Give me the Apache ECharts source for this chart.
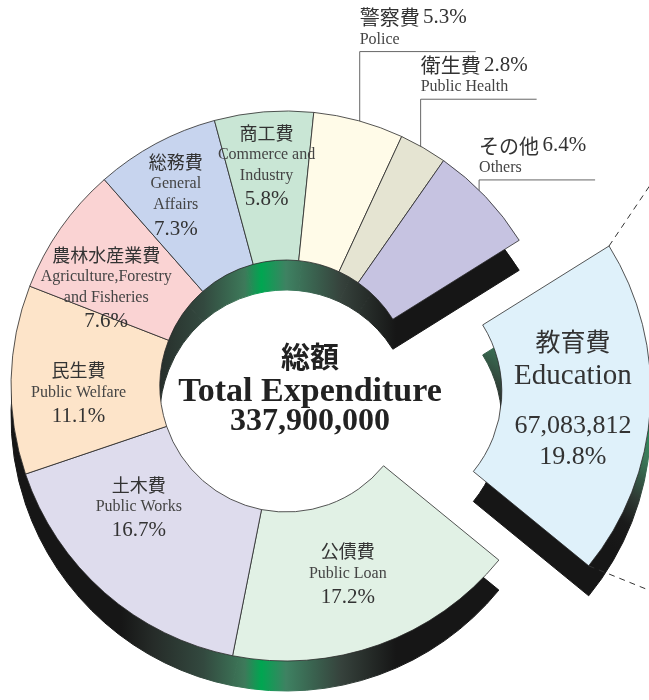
<!DOCTYPE html>
<html>
<head>
<meta charset="utf-8">
<script src="https://cdn.jsdelivr.net/npm/echarts@6/dist/echarts.min.js"></script>
<style>
  html, body { margin: 0; background: #fff; }
  #chart { width: 649px; height: 700px; }
</style>
</head>
<body>
<div id="chart"></div>
<script>
// slices run clockwise, starting with the exploded one
const namesJa = ["教育費", "公債費", "土木費", "民生費", "農林水産業費", "総務費", "商工費", "警察費", "衛生費", "その他"];
const namesEn = ["Education", "Public Loan", "Public Works", "Public Welfare", "Agriculture,Forestry\nand Fisheries",
  "General\nAffairs", "Commerce and\nIndustry", "Police", "Public Health", "Others"];
const shares = [19.8, 17.2, 16.7, 11.1, 7.6, 7.3, 5.8, 5.3, 2.8, 6.4];
const educationAmount = 67083812;
const totalExpenditure = 337900000;
const totalLabelJa = "総額";
const totalLabelEn = "Total Expenditure";

const sliceColors = ["#dff1fa", "#e1f1e5", "#dedced", "#fde4c9", "#fad3d3",
  "#c7d4ee", "#c9e6d5", "#fffbe8", "#e5e4d2", "#c6c3e1"];

// geometry of the ring (px)
const CX = 286, CY = 386, R0 = 126, R1 = 275, DEPTH = 30, START = 32, EXPLODE = 90;
// callout slices: how far the leader rises above its anchor
const calloutRise = { 7: 83, 8: 62, 9: 29 };
const CALLOUT_LEN = 116;
// nudges for the labels drawn inside the ring
const labelNudge = [[-6, -6], [-7, -2], [-13, -30], [-4, 13], [-13, 20], [-14, -10], [-3, -16]];

const rad = (d) => (d * Math.PI) / 180;
const midAngle = shares.map((s, i) => {
  const before = shares.slice(0, i).reduce((a, b) => a + b, 0);
  return START - (360 * (before + s / 2)) / 100;
});
const fmt = (n) => n.toLocaleString("en-US");

function enLines(s) {
  return s.split("\n").map((t) => `{en|${t}}`).join("\n");
}

function sliceLabel(p) {
  const i = p.dataIndex;
  if (i === 0) {
    return `{eja|${namesJa[0]}}\n{een|${namesEn[0]}}\n{gap| }\n{eamt|${fmt(educationAmount)}}\n{eamt|${shares[0]}%}`;
  }
  if (calloutRise[i] != null) {
    return `{cja|${namesJa[i]}} {cpct|${shares[i]}%}\n{ens|${namesEn[i]}}`;
  }
  return `{ja|${namesJa[i]}}\n${enLines(namesEn[i])}\n{pct|${shares[i]}%}`;
}

const serif = "'Liberation Serif', 'DejaVu Serif', serif";
const cjk = "'Noto Sans CJK JP', sans-serif";
const rich = {
  ja: { fontFamily: cjk, fontSize: 18, lineHeight: 23, color: "#333" },
  en: { fontFamily: serif, fontSize: 16, lineHeight: 21, color: "#444" },
  pct: { fontFamily: serif, fontSize: 21, lineHeight: 27, color: "#333" },
  cja: { fontFamily: cjk, fontSize: 20, lineHeight: 26, color: "#333" },
  cpct: { fontFamily: serif, fontSize: 21, lineHeight: 26, color: "#333" },
  ens: { fontFamily: serif, fontSize: 16, lineHeight: 18, color: "#444" },
  eja: { fontFamily: cjk, fontSize: 25, lineHeight: 34, color: "#333" },
  een: { fontFamily: serif, fontSize: 29, lineHeight: 36, color: "#333" },
  gap: { fontSize: 4, lineHeight: 16 },
  eamt: { fontFamily: serif, fontSize: 26, lineHeight: 31, color: "#333" },
};

// side walls: a copy of the ring pushed down by DEPTH, lit from the front
const wallRing = new echarts.graphic.LinearGradient(CX - 165, 0, CX + 110, 0, [
  { offset: 0, color: "#161616" },
  { offset: 0.12, color: "#262c29" },
  { offset: 0.3, color: "#33493f" },
  { offset: 0.45, color: "#3d7a5a" },
  { offset: 0.51, color: "#00a651" },
  { offset: 0.6, color: "#3e8262" },
  { offset: 0.8, color: "#36423c" },
  { offset: 1, color: "#161616" },
], true);

const m0 = rad(midAngle[0]);
const ox = CX + EXPLODE * Math.cos(m0), oy = CY - EXPLODE * Math.sin(m0);
const nx = 0.61, ny = -0.79;
const wallEdu = new echarts.graphic.LinearGradient(
  ox + 185 - 112 * nx, oy + 40 - 112 * ny, ox + 185 + 58 * nx, oy + 40 + 58 * ny, [
  { offset: 0, color: "#161616" },
  { offset: 0.17, color: "#1a1a1a" },
  { offset: 0.32, color: "#2f3a34" },
  { offset: 0.55, color: "#3c7a5a" },
  { offset: 1, color: "#00a651" },
], true);

function pieData(top) {
  return shares.map((v, i) => {
    const wall = i === 0 ? wallEdu : wallRing;
    const item = {
      value: v,
      name: namesJa[i],
      itemStyle: top ? { color: sliceColors[i] } : { color: wall, borderColor: wall, borderWidth: 1 },
    };
    if (i === 0) item.selected = true;
    if (top && calloutRise[i] != null) {
      item.label = { position: "outside" };
      item.labelLine = { show: true, lineStyle: { color: "#666", width: 1 } };
    }
    return item;
  });
}

const common = {
  type: "pie",
  radius: [R0, R1],
  startAngle: START,
  clockwise: true,
  selectedMode: "single",
  selectedOffset: EXPLODE,
  avoidLabelOverlap: false,
  emphasis: { disabled: true },
};

function layoutLabel(params) {
  if (params.seriesIndex !== 1) return;
  const i = params.dataIndex;
  if (calloutRise[i] != null) {
    const a = rad(midAngle[i] - 1);
    const ax = CX + 262 * Math.cos(a), ay = CY - 262 * Math.sin(a);
    const ly = ay - calloutRise[i];
    return {
      x: ax, y: ly - 3, align: "left", verticalAlign: "bottom",
      labelLinePoints: [[ax, ay], [ax, ly], [ax + CALLOUT_LEN, ly]],
    };
  }
  const n = labelNudge[i];
  return { dx: n[0], dy: n[1] };
}

// leaders of the exploded slice, going off the page
const cornerTop = [ox + R1 * Math.cos(rad(START)), oy - R1 * Math.sin(rad(START))];
const endA = START - (360 * shares[0]) / 100;
const cornerBot = [ox + R1 * Math.cos(rad(endA)), oy - R1 * Math.sin(rad(endA))];
const dashTop = rad(56), dashBot = rad(-22);

const option = {
  animation: false,
  series: [
    {
      ...common,
      center: [CX, CY + DEPTH],
      z: 1,
      silent: true,
      label: { show: false },
      labelLine: { show: false },
      select: { itemStyle: { borderWidth: 1 } },
      data: pieData(false),
    },
    {
      ...common,
      center: [CX, CY],
      z: 2,
      itemStyle: { borderColor: "#2a2a2a", borderWidth: 0.8 },
      select: { itemStyle: { borderColor: "#2a2a2a", borderWidth: 0.8 } },
      label: { show: true, position: "inside", formatter: sliceLabel, rich: rich, align: "center" },
      labelLine: { show: false },
      labelLayout: layoutLabel,
      data: pieData(true),
    },
  ],
  graphic: [
    {
      type: "group",
      x: CX + 24,
      y: CY,
      children: [
        { type: "text", style: { text: totalLabelJa, x: 0, y: -29, textAlign: "center", textVerticalAlign: "middle",
          font: `bold 29px ${cjk}`, fill: "#222" } },
        { type: "text", style: { text: totalLabelEn, x: 0, y: 6, textAlign: "center", textVerticalAlign: "middle",
          font: `bold 34px ${serif}`, fill: "#222" } },
        { type: "text", style: { text: fmt(totalExpenditure), x: 0, y: 36, textAlign: "center", textVerticalAlign: "middle",
          font: `bold 32px ${serif}`, fill: "#222" } },
      ],
    },
    {
      type: "line", z: 3,
      shape: { x1: cornerTop[0], y1: cornerTop[1], x2: cornerTop[0] + 140 * Math.cos(dashTop), y2: cornerTop[1] - 140 * Math.sin(dashTop) },
      style: { stroke: "#333", lineWidth: 1, lineDash: [6, 5] },
    },
    {
      type: "line", z: 3,
      shape: { x1: cornerBot[0], y1: cornerBot[1], x2: cornerBot[0] + 140 * Math.cos(dashBot), y2: cornerBot[1] - 140 * Math.sin(dashBot) },
      style: { stroke: "#333", lineWidth: 1, lineDash: [6, 5] },
    },
  ],
};

const chart = echarts.init(document.getElementById("chart"));
chart.setOption(option);
</script>
</body>
</html>
